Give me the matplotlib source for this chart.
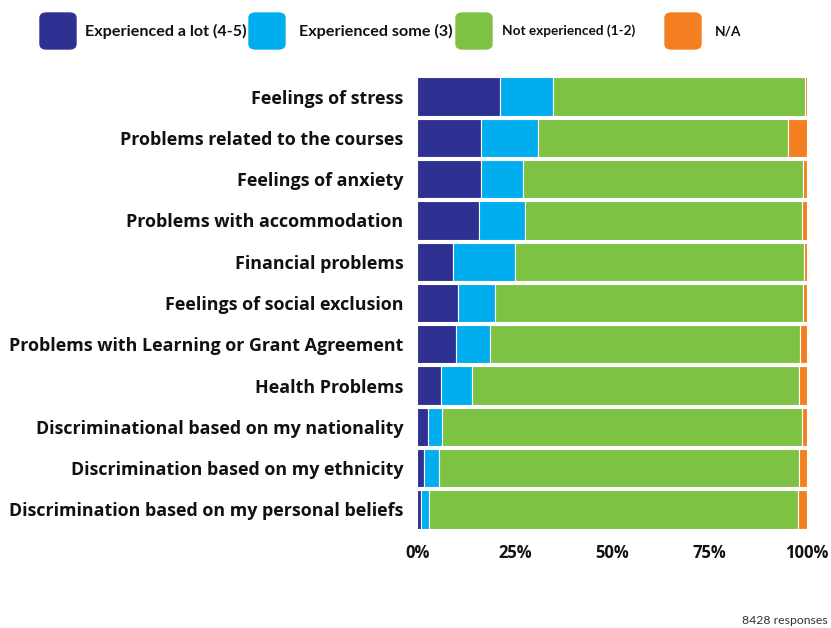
import numpy as np
import matplotlib
matplotlib.use('Agg')
import matplotlib.pyplot as plt
from matplotlib.patches import FancyBboxPatch

categories = ['Feelings of stress',
              'Problems related to the courses',
              'Feelings of anxiety',
              'Problems with accommodation',
              'Financial problems',
              'Feelings of social exclusion',
              'Problems with Learning or Grant Agreement',
              'Health Problems',
              'Discriminational based on my nationality',
              'Discrimination based on my ethnicity',
              'Discrimination based on my personal beliefs']

# percentages
a_lot = [21.2, 16.3, 16.3, 15.7, 9.1, 10.3, 9.8, 6.0, 2.7, 1.7, 0.9]
some = [13.6, 14.6, 10.8, 11.9, 16.0, 9.6, 8.7, 7.9, 3.7, 3.8, 2.1]
not_exp = [64.8, 64.2, 72.0, 71.0, 74.2, 79.1, 79.6, 84.0, 92.2, 92.5, 94.7]
n_a = [0.4, 4.9, 0.9, 1.4, 0.7, 1.0, 1.9, 2.1, 1.4, 2.0, 2.3]

series = [a_lot, some, not_exp, n_a]
labels = ['Experienced a lot (4-5)', 'Experienced some (3)',
          'Not experienced (1-2)', 'N/A']
colors = ['#2E3192', '#00AEEF', '#7DC243', '#F47F20']
xticks = [0, 25, 50, 75, 100]

W, H = 831, 628
fig = plt.figure(figsize=(W / 100, H / 100), dpi=100)
ax = fig.add_axes([417.5 / W, 1 - 530 / H, 389.5 / W, (530 - 76) / H])

y = np.arange(len(categories))
left = np.zeros(len(categories))
for vals, c in zip(series, colors):
    vals = np.array(vals)
    ax.barh(y, vals, left=left, height=0.93, color=c,
            edgecolor='white', linewidth=0.8)
    left += vals

ax.set_ylim(len(categories) - 0.5, -0.5)
ax.set_xlim(0, 100)
ax.set_yticks(y)
ax.set_yticklabels(categories, fontfamily='Open Sans', fontweight='bold',
                   fontsize=12.9, color='#111111')
ax.set_xticks(xticks)
ax.set_xticklabels([f'{t}%' for t in xticks], fontfamily='Open Sans',
                   fontweight='bold', fontsize=12, color='#111111')
ax.tick_params(length=0, axis='y', pad=10)
ax.tick_params(length=0, axis='x', pad=10)
for s in ax.spines.values():
    s.set_visible(False)

# legend drawn by hand across the top
sq_x = [40, 249, 456, 665]
txt_x = [85, 299, 502, 715]
txt_size = [11.6, 11.6, 9.8, 9.8]
for sx, tx, ts, lab, c in zip(sq_x, txt_x, txt_size, labels, colors):
    p = FancyBboxPatch((sx / W, 1 - 49 / H), 36 / W, 36 / H,
                       boxstyle='round,pad=0,rounding_size=0.008',
                       transform=fig.transFigure, color=c)
    fig.add_artist(p)
    fig.text(tx / W, 1 - 31 / H, lab, fontfamily='Lato', fontweight='bold',
             fontsize=ts, color='#111111', va='center', ha='left')

fig.text(828 / W, 1 - 620 / H, '8428 responses', fontfamily='Lato',
         fontsize=8.8, color='#333333', ha='right', va='center')

plt.savefig('out.png', dpi=100)
